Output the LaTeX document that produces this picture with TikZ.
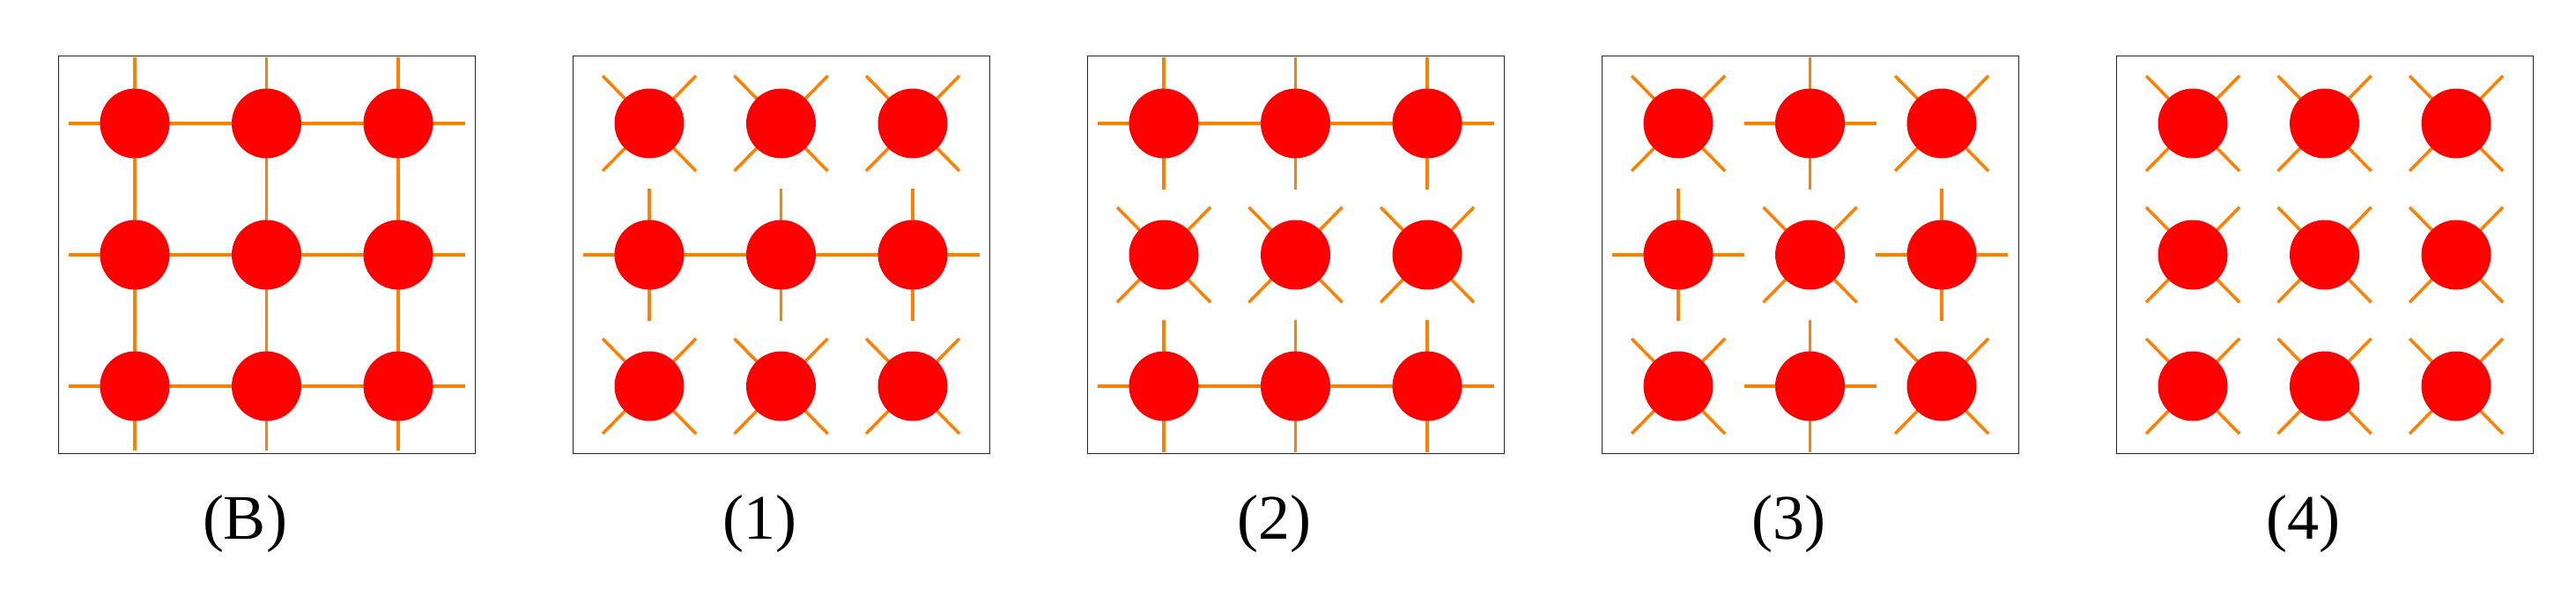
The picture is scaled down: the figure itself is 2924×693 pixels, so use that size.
\documentclass[tikz,border=0pt]{standalone}
\usepackage{fontspec}
\setmainfont{Liberation Serif}
\usetikzlibrary{calc}
\definecolor{bond}{RGB}{255,128,0}
\definecolor{atom}{RGB}{255,0,0}
\tikzset{
  frame/.style={draw=black!85,line width=1.3pt},
  bondline/.style={draw=bond,line width=3.5pt},
  atomdot/.style={circle,fill=atom,minimum size=79pt,inner sep=0pt},
  lab/.style={font=\fontsize{72}{80}\selectfont}
}
\newcommand{\mkpanel}[2]{%
  \node[frame,minimum width=473pt,minimum height=451pt,anchor=north west,inner sep=0pt] (box#2) at (#1,63) {};
  \node[lab] (lab#2) at (#1+212,594) {(#2)};
  \foreach \r in {1,2,3}{\foreach \c in {1,2,3}{%
    \pgfmathsetmacro{\cx}{#1+87+149.5*(\c-1)}%
    \pgfmathsetmacro{\cy}{140+149*(\r-1)}%
    \coordinate (#2-\r-\c) at (\cx,\cy);}}%
  \coordinate (#2-L) at (#1+12,0);
  \coordinate (#2-R) at (#1+462,0);
}
\newcommand{\xarm}[1]{\draw[bondline] ($(#1)+(-53,-54)$) -- ($(#1)+(53,54)$) ($(#1)+(-53,54)$) -- ($(#1)+(53,-54)$);}
\newcommand{\crossarm}[1]{\draw[bondline] ($(#1)+(-75,0)$) -- ($(#1)+(75,0)$) ($(#1)+(0,-75)$) -- ($(#1)+(0,75)$);}
\newcommand{\vstub}[1]{\draw[bondline] ($(#1)+(0,-75)$) -- ($(#1)+(0,75)$);}
\newcommand{\hrow}[2]{\draw[bondline] (#1-L |- #1-#2-1) -- (#1-R |- #1-#2-1);}
\newcommand{\atomset}[1]{\foreach \r in {1,2,3}{\foreach \c in {1,2,3}{\node[atomdot] (atom#1-\r-\c) at (#1-\r-\c) {};}}}
\begin{document}
\begin{tikzpicture}[x=1pt,y=-1pt]
\useasboundingbox (0,0) rectangle (2924,693);
\mkpanel{66}{B}
\mkpanel{650}{1}
\mkpanel{1234}{2}
\mkpanel{1818}{3}
\mkpanel{2402}{4}
% (B) full grid
\foreach \r in {1,2,3}{\hrow{B}{\r}}
\foreach \c in {1,2,3}{\draw[bondline] ($(B-1-\c)+(0,-75)$) -- ($(B-3-\c)+(0,73)$);}
\atomset{B}
% (1)
\foreach \c in {1,2,3}{\xarm{1-1-\c}\xarm{1-3-\c}\vstub{1-2-\c}}
\hrow{1}{2}
\atomset{1}
% (2)
\foreach \c in {1,2,3}{\vstub{2-1-\c}\vstub{2-3-\c}\xarm{2-2-\c}}
\hrow{2}{1}\hrow{2}{3}
\atomset{2}
% (3)
\xarm{3-1-1}\crossarm{3-1-2}\xarm{3-1-3}
\crossarm{3-2-1}\xarm{3-2-2}\crossarm{3-2-3}
\xarm{3-3-1}\crossarm{3-3-2}\xarm{3-3-3}
\atomset{3}
% (4)
\foreach \r in {1,2,3}{\foreach \c in {1,2,3}{\xarm{4-\r-\c}}}
\atomset{4}
\end{tikzpicture}
\end{document}
